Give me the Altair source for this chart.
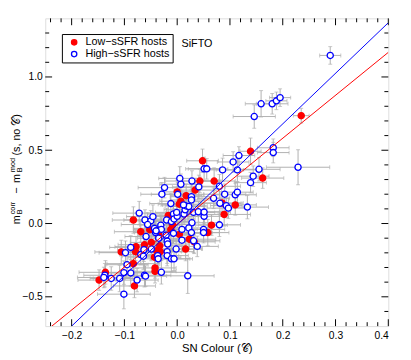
import altair as alt
import pandas as pd

FONT = "Liberation Sans"
LOW = "Low\u2212sSFR hosts"
HIGH = "High\u2212sSFR hosts"

# ---- Low-sSFR hosts (red filled) ----
low_colour = [-0.148, -0.136, -0.106, -0.078, -0.083, -0.079, -0.081, -0.069, -0.083, -0.062,
              -0.052, -0.049, -0.043, -0.042, -0.042, -0.033, -0.039, -0.035, -0.032, -0.017,
              -0.009, 0.004, -0.012, 0.007, 0.017, 0.004, 0.034, 0.023, 0.016, 0.058,
              0.065, 0.085, 0.089, 0.110, 0.000, 0.043, 0.070, 0.048, 0.139, 0.162,
              0.235, 0.032]
low_resid = [-0.386, -0.333, -0.194, -0.158, -0.274, -0.192, -0.426, -0.056, 0.024, -0.145,
             -0.042, -0.129, -0.230, -0.303, -0.326, -0.152, -0.185, -0.080, -0.192, 0.054,
             -0.007, -0.074, -0.040, 0.152, 0.190, 0.132, 0.228, -0.107, -0.174, -0.062,
             -0.011, 0.140, 0.062, 0.127, 0.216, 0.290, 0.290, 0.428, 0.493, 0.310,
             0.736, -0.125]
low_colour_err = [0.04, 0.05, 0.05, 0.04, 0.05, 0.03, 0.04, 0.05, 0.04, 0.05,
                  0.03, 0.04, 0.05, 0.04, 0.04, 0.05, 0.03, 0.04, 0.04, 0.03,
                  0.04, 0.03, 0.05, 0.04, 0.03, 0.04, 0.04, 0.05, 0.03, 0.04,
                  0.03, 0.04, 0.05, 0.04, 0.03, 0.04, 0.04, 0.03, 0.02, 0.04,
                  0.015, 0.04]
low_resid_err = [0.07, 0.08, 0.08, 0.07, 0.09, 0.06, 0.08, 0.07, 0.09, 0.08,
                 0.06, 0.07, 0.08, 0.07, 0.08, 0.09, 0.07, 0.08, 0.06, 0.07,
                 0.08, 0.07, 0.09, 0.07, 0.08, 0.06, 0.08, 0.07, 0.08, 0.09,
                 0.07, 0.06, 0.08, 0.07, 0.08, 0.08, 0.09, 0.08, 0.09, 0.07,
                 0.05, 0.08]

# ---- High-sSFR hosts (blue open) ----
high_colour = [-0.137, -0.139, -0.125, -0.109, -0.101, -0.101, -0.095, -0.098, -0.088, -0.088,
               -0.076, -0.069, -0.072, -0.061, -0.059, -0.063, -0.064, -0.062, -0.060, -0.050,
               -0.046, -0.043, -0.041, -0.049, -0.037, -0.036, -0.030, -0.031, -0.030, -0.021,
               -0.019, -0.018, -0.019, -0.019, -0.011, -0.006, -0.002, -0.020, -0.011, -0.007,
               -0.006, 0.000, -0.007, 0.009, 0.013, 0.015, 0.017, 0.001, -0.012, 0.027,
               0.027, 0.041, 0.022, 0.031, 0.040, 0.028, 0.022, 0.009, 0.027, 0.031,
               0.038, 0.020, 0.050, 0.050, 0.080, 0.051, 0.051, 0.069, 0.081, 0.090,
               0.093, 0.097, 0.110, 0.114, 0.133, 0.139, 0.080, -0.024, -0.029, 0.007,
               0.005, 0.028, 0.051, 0.056, 0.086, 0.106, 0.117, 0.114, 0.144, 0.155,
               0.182, 0.182, 0.229, 0.146, 0.159, 0.180, 0.188, 0.195, 0.290, -0.035,
               -0.040, -0.056, -0.001, 0.012]
high_resid = [-0.353, -0.368, -0.375, -0.375, -0.335, -0.482, -0.281, -0.199, -0.163, -0.337,
              -0.386, -0.212, 0.071, 0.024, -0.089, -0.179, -0.223, -0.353, -0.359, 0.018,
              0.047, -0.033, -0.062, -0.174, -0.219, -0.241, -0.333, -0.011, -0.040, -0.080,
              -0.120, -0.140, -0.192, -0.219, -0.241, -0.241, -0.174, 0.024, 0.013, 0.065,
              0.031, 0.049, -0.067, -0.040, 0.065, 0.094, 0.120, 0.199, 0.136, 0.183,
              0.161, 0.250, 0.116, 0.076, 0.080, 0.005, -0.030, -0.114, -0.062, -0.118,
              -0.156, -0.357, -0.040, -0.062, -0.009, 0.049, 0.078, 0.172, 0.138, 0.200,
              0.122, 0.105, 0.196, 0.214, 0.112, 0.279, 0.254, 0.245, 0.200, 0.268,
              0.308, 0.290, 0.373, 0.373, 0.366, 0.420, 0.464, 0.366, 0.323, 0.370,
              0.517, 0.484, 0.384, 0.730, 0.817, 0.817, 0.837, 0.859, 1.147, -0.100,
              -0.050, -0.007, 0.076, 0.127]
high_colour_err = [0.04, 0.05, 0.04, 0.05, 0.04, 0.05, 0.04, 0.05, 0.04, 0.05,
                   0.04, 0.04, 0.05, 0.04, 0.04, 0.05, 0.04, 0.05, 0.04, 0.04,
                   0.05, 0.04, 0.04, 0.05, 0.04, 0.03, 0.05, 0.04, 0.04, 0.05,
                   0.04, 0.04, 0.05, 0.04, 0.04, 0.03, 0.05, 0.04, 0.04, 0.05,
                   0.04, 0.04, 0.05, 0.04, 0.03, 0.04, 0.04, 0.05, 0.04, 0.04,
                   0.04, 0.05, 0.03, 0.04, 0.04, 0.05, 0.04, 0.03, 0.04, 0.05,
                   0.04, 0.05, 0.04, 0.03, 0.04, 0.04, 0.05, 0.03, 0.04, 0.04,
                   0.03, 0.04, 0.04, 0.03, 0.04, 0.03, 0.04, 0.05, 0.04, 0.04,
                   0.04, 0.05, 0.03, 0.04, 0.04, 0.03, 0.03, 0.04, 0.03, 0.04,
                   0.03, 0.03, 0.06, 0.04, 0.03, 0.03, 0.02, 0.02, 0.02, 0.04,
                   0.04, 0.05, 0.04, 0.04]
high_resid_err = [0.08, 0.07, 0.08, 0.09, 0.08, 0.10, 0.07, 0.08, 0.08, 0.09,
                  0.08, 0.07, 0.08, 0.07, 0.08, 0.08, 0.09, 0.08, 0.07, 0.07,
                  0.08, 0.07, 0.08, 0.08, 0.07, 0.09, 0.08, 0.07, 0.08, 0.07,
                  0.08, 0.07, 0.08, 0.07, 0.09, 0.08, 0.07, 0.08, 0.07, 0.08,
                  0.07, 0.08, 0.07, 0.08, 0.07, 0.08, 0.07, 0.08, 0.07, 0.08,
                  0.07, 0.08, 0.07, 0.08, 0.07, 0.08, 0.07, 0.08, 0.07, 0.08,
                  0.07, 0.12, 0.08, 0.07, 0.08, 0.07, 0.08, 0.07, 0.08, 0.07,
                  0.08, 0.07, 0.08, 0.07, 0.08, 0.07, 0.08, 0.07, 0.08, 0.07,
                  0.08, 0.07, 0.08, 0.07, 0.08, 0.07, 0.06, 0.08, 0.07, 0.08,
                  0.06, 0.07, 0.12, 0.08, 0.09, 0.07, 0.06, 0.06, 0.06, 0.08,
                  0.07, 0.08, 0.07, 0.08]

# ---- fit lines ----
fit_groups = [LOW, HIGH]
fit_slope = [2.93, 3.45]
fit_intercept = [-0.004, -0.010]
fit_colours = ["#ff0000", "#0000ff"]

# ---- axes ----
x_domain = [-0.25, 0.4]
y_domain = [-0.7, 1.4]
x_major = [-0.2, -0.1, 0.0, 0.1, 0.2, 0.3, 0.4]
x_minor = [-0.24, -0.22, -0.18, -0.16, -0.14, -0.12, -0.08, -0.06, -0.04, -0.02,
           0.02, 0.04, 0.06, 0.08, 0.12, 0.14, 0.16, 0.18, 0.22, 0.24, 0.26, 0.28,
           0.32, 0.34, 0.36, 0.38]
y_major = [-0.5, 0.0, 0.5, 1.0]
y_minor = [-0.6, -0.4, -0.3, -0.2, -0.1, 0.1, 0.2, 0.3, 0.4, 0.6, 0.7, 0.8, 0.9,
           1.1, 1.2, 1.3]

W, H = 350, 314

rows = []
for c, r, ce, re in zip(low_colour, low_resid, low_colour_err, low_resid_err):
    rows.append({"group": LOW, "colour": c, "resid": r, "ce": ce, "re": re})
for c, r, ce, re in zip(high_colour, high_resid, high_colour_err, high_resid_err):
    rows.append({"group": HIGH, "colour": c, "resid": r, "ce": ce, "re": re})
df = pd.DataFrame(rows)
df["xlo"] = df["colour"] - df["ce"]
df["xhi"] = df["colour"] + df["ce"]
df["ylo"] = df["resid"] - df["re"]
df["yhi"] = df["resid"] + df["re"]

line_rows = []
for g, s, b in zip(fit_groups, fit_slope, fit_intercept):
    for c in x_domain:
        line_rows.append({"group": g, "colour": c, "resid": s * c + b})
lines_df = pd.DataFrame(line_rows)

xs = alt.Scale(domain=x_domain, nice=False, zero=False)
ys = alt.Scale(domain=y_domain, nice=False, zero=False)
lab_expr = "replace(format(datum.value, '.1f'), '-', '\u2212')"
xaxis = alt.Axis(values=x_major, labelExpr=lab_expr, ticks=False, domain=False, grid=False,
                 labelFont=FONT, labelFontSize=10.5, labelPadding=5, labelColor="black",
                 title="SN Colour (\U0001D49E)", titleFont=FONT, titleFontSize=11.5,
                 titleFontWeight="normal", titleColor="black", titlePadding=1)
yaxis = alt.Axis(values=y_major, labelExpr=lab_expr, ticks=False, domain=False, grid=False,
                 labelFont=FONT, labelFontSize=10.5, labelPadding=3, labelColor="black",
                 title=None)


def X(f):
    return alt.X(f, type="quantitative", scale=xs, axis=xaxis)


def Y(f):
    return alt.Y(f, type="quantitative", scale=ys, axis=yaxis)


base = alt.Chart(df)
ERR = "#b0b0b0"
err_x = base.mark_rule(color=ERR, strokeWidth=1).encode(x=X("xlo"), x2="xhi", y=Y("resid"))
err_y = base.mark_rule(color=ERR, strokeWidth=1).encode(x=X("colour"), y=Y("ylo"), y2="yhi")
cap_l = base.mark_tick(color=ERR, orient="vertical", size=4, thickness=1).encode(x=X("xlo"), y=Y("resid"))
cap_r = base.mark_tick(color=ERR, orient="vertical", size=4, thickness=1).encode(x=X("xhi"), y=Y("resid"))
cap_b = base.mark_tick(color=ERR, orient="horizontal", size=4, thickness=1).encode(x=X("colour"), y=Y("ylo"))
cap_t = base.mark_tick(color=ERR, orient="horizontal", size=4, thickness=1).encode(x=X("colour"), y=Y("yhi"))

leg = alt.Legend(title=None, orient="none", legendX=17, legendY=16, strokeColor="black",
                 fillColor="white", padding=3, symbolOffset=4, labelOffset=6,
                 labelFont=FONT, labelFontSize=11, labelColor="black", symbolSize=30,
                 symbolStrokeWidth=1.3, rowPadding=0, symbolType="circle")
points = base.mark_point(shape="circle", filled=True, size=40, strokeWidth=1.3, opacity=1).encode(
    x=X("colour"), y=Y("resid"),
    fill=alt.Fill("group:N", scale=alt.Scale(domain=[LOW, HIGH], range=["#ff0000", "#ffffff"]), legend=leg),
    stroke=alt.Stroke("group:N", scale=alt.Scale(domain=[LOW, HIGH], range=["#ff0000", "#0000ff"]), legend=leg),
)

fit_layers = []
for g, col in zip(fit_groups, fit_colours):
    fit_layers.append(
        alt.Chart(lines_df).transform_filter(alt.datum.group == g)
        .mark_line(color=col, strokeWidth=1, clip=True)
        .encode(x=X("colour"), y=Y("resid"))
    )


# inward tick marks on all four sides
def xticks(vals, length):
    d = pd.DataFrame({"v": vals})
    top = alt.Chart(d).mark_rule(color="black", strokeWidth=1).encode(
        x=X("v"), y=alt.value(0), y2=alt.value(length))
    bot = alt.Chart(d).mark_rule(color="black", strokeWidth=1).encode(
        x=X("v"), y=alt.value(H), y2=alt.value(H - length))
    return [top, bot]


def yticks(vals, length):
    d = pd.DataFrame({"v": vals})
    left = alt.Chart(d).mark_rule(color="black", strokeWidth=1).encode(
        y=Y("v"), x=alt.value(0), x2=alt.value(length))
    right = alt.Chart(d).mark_rule(color="black", strokeWidth=1).encode(
        y=Y("v"), x=alt.value(W), x2=alt.value(W - length))
    return [left, right]


tick_layers = xticks(x_major, 7) + xticks(x_minor, 4) + yticks(y_major, 7) + yticks(y_minor, 4)

one = pd.DataFrame({"k": [0]})


def txt(s, x, y, size, angle=270, align="left"):
    return alt.Chart(one).mark_text(text=s, angle=angle, align=align, baseline="middle",
                                    font=FONT, fontSize=size, color="black").encode(
        x=alt.value(x), y=alt.value(y))


MAIN_X, SUP_X, SUB_X = -29, -32.5, -25.5
ytitle = [
    txt("m", MAIN_X, 210, 11),
    txt("B", SUB_X, 200, 7.5),
    txt("corr", SUP_X, 200, 7.5),
    txt("\u2212", MAIN_X, 179, 11),
    txt("m", MAIN_X, 168, 11),
    txt("B", SUB_X, 157, 7.5),
    txt("mod", SUP_X, 157, 7.5),
    txt("(s, no \U0001D49E)", MAIN_X, 140, 11),
]
sifto = txt("SiFTO", 139, 26, 11, angle=0)

chart = alt.layer(
    err_x, err_y, cap_l, cap_r, cap_b, cap_t, points, *fit_layers, *tick_layers, *ytitle, sifto
).properties(
    width=W, height=H,
    padding={"left": 38, "top": 7, "right": 15, "bottom": 30},
    autosize=alt.AutoSizeParams(type="none"),
).configure_view(stroke="black", strokeWidth=1).configure(background="white")

chart.save("out.html", embed_options={"renderer": "svg", "actions": False})
